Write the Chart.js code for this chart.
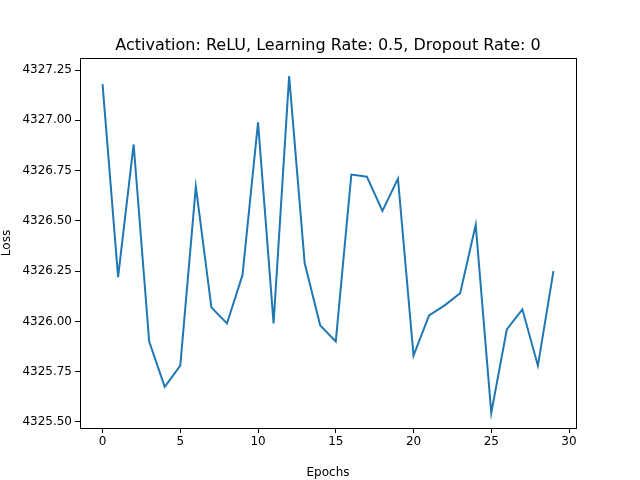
<!DOCTYPE html>
<html>
<head>
<meta charset="utf-8">
<script src="https://cdn.jsdelivr.net/npm/chart.js@4"></script>
<style>
  html, body { margin: 0; padding: 0; background: #fff; }
  #wrap { width: 640px; height: 480px; }
</style>
</head>
<body>
<div id="wrap"><canvas id="lossChart" width="640" height="480"></canvas></div>
<script>
const epochs = [];
for (let i = 0; i < 30; i++) epochs.push(i);
const lossValues = [4327.18, 4326.22, 4326.88, 4325.90, 4325.675, 4325.78, 4326.67, 4326.07, 4325.99, 4326.23,
    4326.99, 4325.99, 4327.22, 4326.29, 4325.98, 4325.90, 4326.73, 4326.72, 4326.55, 4326.71,
    4325.83, 4326.03, 4326.08, 4326.14, 4326.48, 4325.545, 4325.96, 4326.06, 4325.78, 4326.25];
const xTicks = [0, 5, 10, 15, 20, 25, 30];
const yTicks = [4325.50, 4325.75, 4326.00, 4326.25, 4326.50, 4326.75, 4327.00, 4327.25];
const titleText = 'Activation: ReLU, Learning Rate: 0.5, Dropout Rate: 0';

const font = { family: 'DejaVu Sans', size: 12 };

// full box around the plot and a title centred over it, like matplotlib
const frame = {
    id: 'frame',
    afterDraw(chart) {
        const a = chart.chartArea, c = chart.ctx;
        c.save();
        c.strokeStyle = '#000';
        c.lineWidth = 1;
        c.strokeRect(a.left + 0.5, a.top + 0.5, a.right - a.left, a.bottom - a.top);
        c.fillStyle = '#000';
        c.font = '16px "DejaVu Sans"';
        c.textAlign = 'center';
        c.textBaseline = 'alphabetic';
        c.fillText(titleText, (a.left + a.right) / 2, a.top - 8);
        c.restore();
    }
};

new Chart(document.getElementById('lossChart').getContext('2d'), {
    type: 'line',
    data: {
        datasets: [{
            data: epochs.map((e, i) => ({ x: e, y: lossValues[i] })),
            borderColor: '#1f77b4',
            borderWidth: 2,
            pointRadius: 0,
            tension: 0
        }]
    },
    options: {
        responsive: false,
        animation: false,
        layout: { padding: { left: 0, right: 64, top: 58, bottom: 0 } },
        plugins: {
            legend: { display: false },
            tooltip: { enabled: false },
            title: { display: false }
        },
        scales: {
            x: {
                type: 'linear',
                min: -1.45,
                max: 30.45,
                afterBuildTicks: s => { s.ticks = xTicks.map(v => ({ value: v })); },
                afterFit: s => { s.height = 52; },
                ticks: { color: '#000', font: font, maxRotation: 0, padding: 2 },
                grid: { drawOnChartArea: false, tickLength: 5, color: '#000' },
                border: { color: '#000' },
                title: { display: true, text: 'Epochs', color: '#000', font: font, padding: { top: 0, bottom: 0 } }
            },
            y: {
                min: 4325.47,
                max: 4327.31,
                afterBuildTicks: s => { s.ticks = yTicks.map(v => ({ value: v })); },
                afterFit: s => { s.width = 80; },
                ticks: { color: '#000', font: font, callback: v => v.toFixed(2) },
                grid: { drawOnChartArea: false, tickLength: 5, color: '#000' },
                border: { color: '#000' },
                title: { display: true, text: 'Loss', color: '#000', font: font, padding: 0 }
            }
        }
    },
    plugins: [frame]
});
</script>
</body>
</html>
